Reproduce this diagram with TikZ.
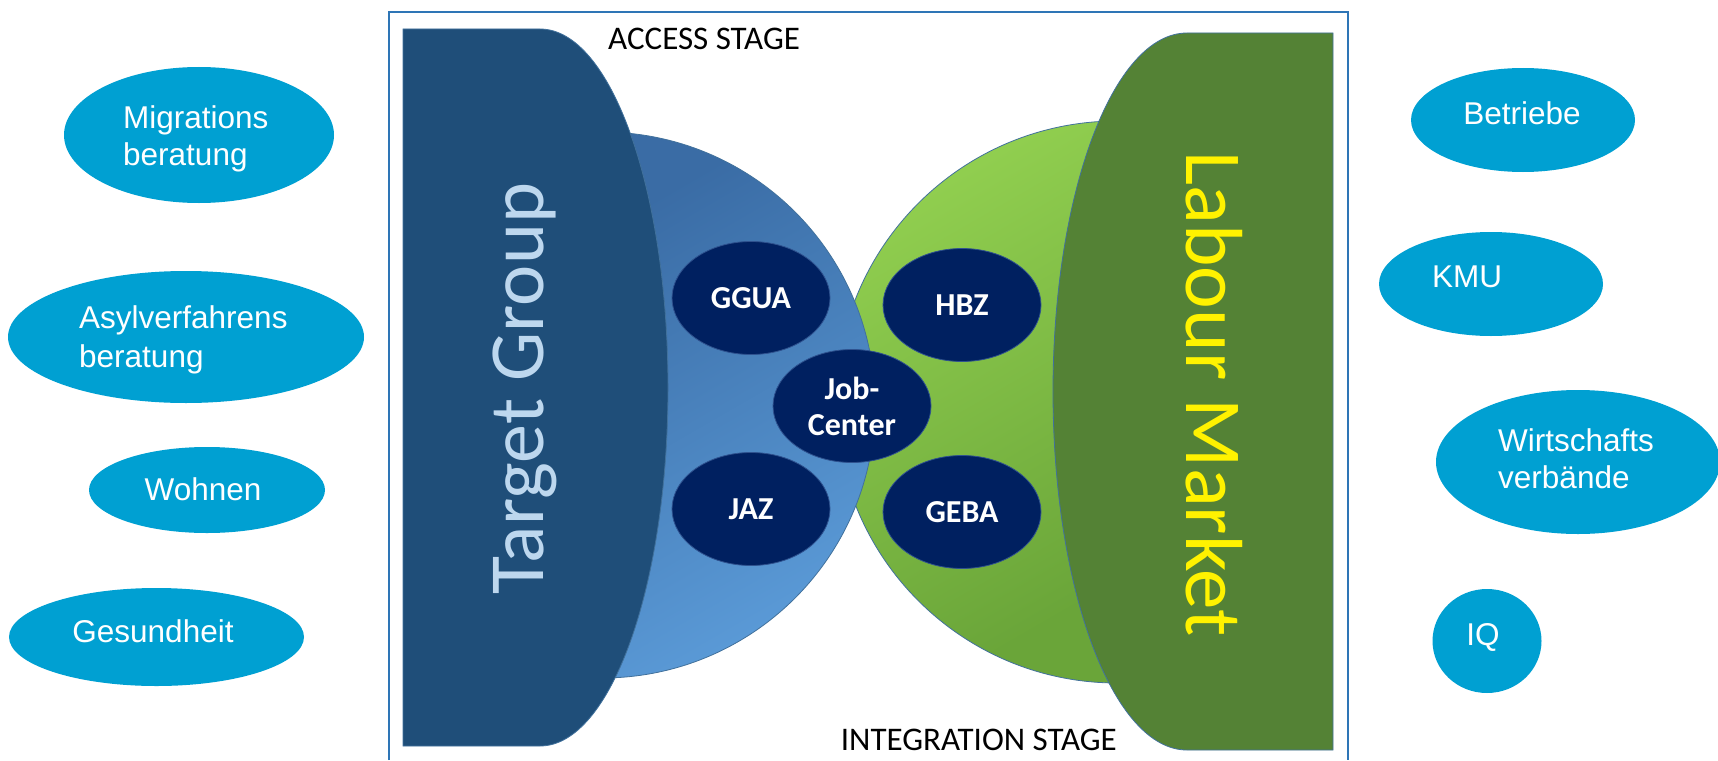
\documentclass[tikz,border=0pt]{standalone}
\usepackage{fontspec}
\newfontfamily\calfont{Carlito}
\newfontfamily\arifont{Liberation Sans}
\usetikzlibrary{shapes.geometric}
\definecolor{tgcol}{HTML}{1F4E79}
\definecolor{lmcol}{HTML}{548235}
\definecolor{blA}{HTML}{3A6CA5}
\definecolor{blB}{HTML}{5B9BD8}
\definecolor{grA}{HTML}{92D050}
\definecolor{grB}{HTML}{6AA539}
\definecolor{navycol}{HTML}{002060}
\definecolor{navyedge}{HTML}{2F528F}
\definecolor{edgecol}{HTML}{41719C}
\definecolor{framecol}{HTML}{2E75B6}
\definecolor{bubcol}{HTML}{00A0D2}
\definecolor{tgtext}{HTML}{BDD7EE}
\begin{document}
\begin{tikzpicture}[x=1pt,y=-1pt,
  bub/.style={ellipse, fill=bubcol, inner sep=0pt},
  btxt/.style={font=\arifont\fontsize{31.5}{37}\selectfont, text=white, inner sep=0pt},
  navy/.style={ellipse, fill=navycol, draw=navyedge, line width=0.8pt, minimum width=158pt, minimum height=113pt, inner sep=0pt, align=center, text=white, font=\calfont\bfseries\fontsize{32}{36}\selectfont},
  shapeedge/.style={draw=edgecol, line width=0.8pt},
  stage/.style={font=\calfont\fontsize{33}{38}\selectfont, text=black, inner sep=0pt},
  bigtxt/.style={font=\calfont\fontsize{78}{80}\selectfont, inner sep=0pt, anchor=base}]
\useasboundingbox (0,0) rectangle (1718,760);
\fill[white] (0,0) rectangle (1718,760);
% frame
\draw[framecol, line width=1.5pt] (389,760) -- (389,12) -- (1348,12) -- (1348,760);
% big half circles
\shadedraw[top color=grA, bottom color=grB, shading angle=30, shapeedge] (1117,121) arc[start angle=-90, end angle=-270, radius=281] -- cycle;
\shadedraw[top color=blA, bottom color=blB, shading angle=30, shapeedge] (602,132) arc[start angle=-90, end angle=90, radius=273] -- cycle;
% side shapes
\filldraw[fill=tgcol, shapeedge] (403,29) -- (540,29) arc[start angle=-90, end angle=90, x radius=128, y radius=358.5] -- (403,746) -- cycle;
\filldraw[fill=lmcol, shapeedge] (1333,33) -- (1187,33) arc[start angle=-90, end angle=-270, x radius=134, y radius=358.5] -- (1333,750) -- cycle;
\node[bigtxt, rotate=90, text=tgtext] (tgT) at (543,389) {Target Group};
\node[bigtxt, rotate=-90, text=yellow, font=\calfont\fontsize{81}{83}\selectfont] (lmT) at (1186,394) {Labour Market};
% navy ellipses
\node[navy] (hbz) at (962,305) {HBZ};
\node[navy] (geba) at (962,512) {GEBA};
\node[navy] (ggua) at (751,298) {GGUA};
\node[navy] (jaz) at (751,509) {JAZ};
\node[navy] (job) at (852,406) {Job-\\Center};
% stage labels
\node[stage, anchor=base west] (acc) at (608,49) {ACCESS STAGE};
\node[stage, anchor=base east] (integ) at (1117,750) {INTEGRATION STAGE};
% left bubbles
\node[bub, minimum width=270pt, minimum height=136pt] (mig) at (199,135) {};
\node[btxt, anchor=base west] (migA) at (123,128) {Migrations};
\node[btxt, anchor=base west] (migB) at (123,165) {beratung};
\node[bub, minimum width=356pt, minimum height=132pt] (asy) at (186,337) {};
\node[btxt, anchor=base west] (asyA) at (79,328) {Asylverfahrens};
\node[btxt, anchor=base west] (asyB) at (79,367) {beratung};
\node[bub, minimum width=236pt, minimum height=86pt] (woh) at (207,490) {};
\node[btxt, anchor=base] (wohT) at (203,500) {Wohnen};
\node[bub, minimum width=295pt, minimum height=98pt] (ges) at (156.5,637) {};
\node[btxt, anchor=base] (gesT) at (153,642) {Gesundheit};
% right bubbles
\node[bub, minimum width=224pt, minimum height=104pt] (bet) at (1523,120) {};
\node[btxt, anchor=base] (betT) at (1522,124) {Betriebe};
\node[bub, minimum width=224pt, minimum height=104pt] (kmu) at (1491,284) {};
\node[btxt, anchor=base west] (kmuT) at (1432,287) {KMU};
\node[bub, minimum width=284pt, minimum height=144pt] (wir) at (1578,462) {};
\node[btxt, anchor=base west] (wirA) at (1498,451) {Wirtschafts};
\node[btxt, anchor=base west] (wirB) at (1498,488) {verbände};
\node[bub, minimum width=109pt, minimum height=104pt] (iq) at (1487,641) {};
\node[btxt, anchor=base] (iqT) at (1483,645) {IQ};
\end{tikzpicture}
\end{document}
